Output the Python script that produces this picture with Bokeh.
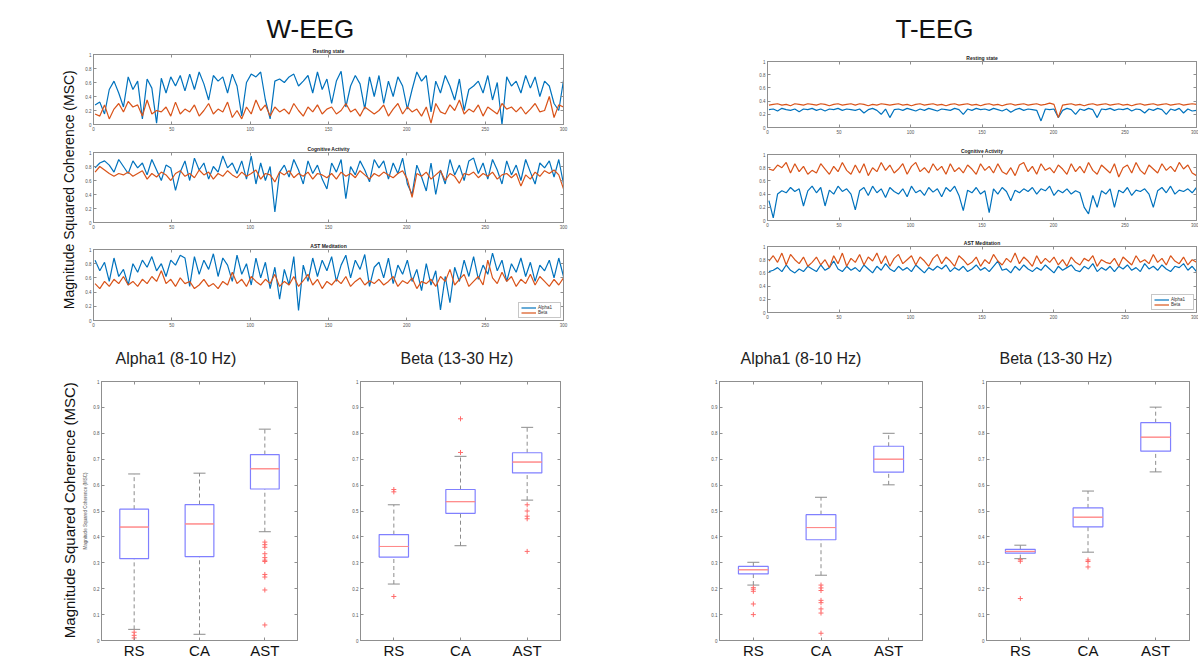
import numpy as np
from math import pi
from bokeh.plotting import figure
from bokeh.layouts import row, column, Spacer
from bokeh.models import (Title, Label, LinearAxis, CategoricalAxis, FixedTicker, Range1d,
                          FactorRange, Legend, LegendItem, ColumnDataSource, Whisker, TeeHead,
                          NumeralTickFormatter)
from bokeh.embed import file_html
from bokeh.resources import INLINE

# ---------------- data: time series (MSC per window, 100 samples over 1..300) ----------------
W_REST_ALPHA = [
    0.28, 0.32, 0.15, 0.50, 0.62, 0.45, 0.25, 0.68, 0.50, 0.62,
    0.08, 0.65, 0.52, 0.02, 0.66, 0.45, 0.68, 0.55, 0.70, 0.48,
    0.72, 0.50, 0.75, 0.58, 0.35, 0.70, 0.62, 0.68, 0.45, 0.72,
    0.55, 0.12, 0.60, 0.72, 0.68, 0.75, 0.35, 0.08, 0.62, 0.65,
    0.60, 0.68, 0.72, 0.55, 0.62, 0.70, 0.45, 0.75, 0.50, 0.65,
    0.30, 0.62, 0.76, 0.25, 0.55, 0.70, 0.58, 0.22, 0.68, 0.40,
    0.70, 0.30, 0.62, 0.40, 0.68, 0.55, 0.22, 0.50, 0.75, 0.62,
    0.70, 0.18, 0.62, 0.45, 0.70, 0.55, 0.35, 0.65, 0.20, 0.50,
    0.55, 0.62, 0.45, 0.70, 0.35, 0.60, 0.00, 0.68, 0.55, 0.62,
    0.45, 0.70, 0.52, 0.68, 0.40, 0.62, 0.55, 0.30, 0.20, 0.63]
W_REST_BETA = [
    0.15, 0.12, 0.28, 0.08, 0.22, 0.30, 0.18, 0.33, 0.25, 0.28,
    0.12, 0.35, 0.15, 0.20, 0.18, 0.25, 0.12, 0.32, 0.15, 0.22,
    0.18, 0.28, 0.12, 0.20, 0.30, 0.15, 0.22, 0.18, 0.32, 0.10,
    0.20, 0.08, 0.25, 0.15, 0.35, 0.20, 0.28, 0.12, 0.25, 0.18,
    0.22, 0.15, 0.30, 0.20, 0.12, 0.25, 0.18, 0.28, 0.15, 0.22,
    0.25, 0.15, 0.20, 0.30, 0.18, 0.22, 0.12, 0.25, 0.20, 0.15,
    0.20, 0.28, 0.12, 0.22, 0.30, 0.15, 0.25, 0.18, 0.22, 0.12,
    0.25, 0.02, 0.30, 0.18, 0.15, 0.28, 0.20, 0.35, 0.15, 0.22,
    0.18, 0.28, 0.12, 0.25, 0.20, 0.15, 0.30, 0.22, 0.25, 0.18,
    0.25, 0.15, 0.22, 0.30, 0.18, 0.20, 0.40, 0.10, 0.28, 0.25]
W_COG_ALPHA = [
    0.78, 0.85, 0.88, 0.82, 0.72, 0.90, 0.80, 0.70, 0.88, 0.78,
    0.85, 0.68, 0.90, 0.75, 0.60, 0.82, 0.78, 0.46, 0.72, 0.88,
    0.60, 0.92, 0.75, 0.85, 0.62, 0.80, 0.72, 0.95, 0.78, 0.85,
    0.70, 0.88, 0.62, 0.95, 0.55, 0.85, 0.60, 0.80, 0.15, 0.72,
    0.82, 0.65, 0.90, 0.75, 0.55, 0.88, 0.70, 0.82, 0.62, 0.48,
    0.85, 0.72, 0.90, 0.34, 0.80, 0.68, 0.88, 0.75, 0.58, 0.90,
    0.78, 0.88, 0.62, 0.85, 0.70, 0.92, 0.55, 0.40, 0.82, 0.65,
    0.45, 0.85, 0.40, 0.75, 0.55, 0.90, 0.68, 0.82, 0.60, 0.88,
    0.92, 0.70, 0.85, 0.62, 0.90, 0.75, 0.55, 0.88, 0.68, 0.82,
    0.60, 0.90, 0.72, 0.55, 0.85, 0.78, 0.88, 0.65, 0.90, 0.55]
W_COG_BETA = [
    0.72, 0.80, 0.75, 0.70, 0.66, 0.70, 0.68, 0.72, 0.66, 0.70,
    0.74, 0.62, 0.70, 0.65, 0.72, 0.68, 0.60, 0.70, 0.74, 0.66,
    0.70, 0.64, 0.75, 0.68, 0.72, 0.62, 0.70, 0.66, 0.74, 0.68,
    0.64, 0.72, 0.66, 0.70, 0.75, 0.62, 0.70, 0.68, 0.58, 0.72,
    0.68, 0.74, 0.64, 0.70, 0.66, 0.72, 0.62, 0.70, 0.68, 0.64,
    0.70, 0.62, 0.72, 0.66, 0.70, 0.64, 0.74, 0.68, 0.62, 0.70,
    0.66, 0.72, 0.68, 0.64, 0.70, 0.74, 0.62, 0.36, 0.70, 0.66,
    0.72, 0.62, 0.68, 0.74, 0.60, 0.70, 0.66, 0.56, 0.70, 0.68,
    0.72, 0.64, 0.70, 0.66, 0.72, 0.62, 0.68, 0.70, 0.64, 0.70,
    0.52, 0.68, 0.62, 0.72, 0.66, 0.74, 0.70, 0.75, 0.68, 0.48]
W_AST_ALPHA = [
    0.85, 0.70, 0.82, 0.55, 0.88, 0.62, 0.72, 0.50, 0.80, 0.68,
    0.85, 0.75, 0.90, 0.70, 0.80, 0.62, 0.85, 0.78, 0.92, 0.88,
    0.48, 0.90, 0.65, 0.85, 0.72, 0.94, 0.62, 0.88, 0.78, 0.55,
    0.92, 0.65, 0.80, 0.50, 0.88, 0.60, 0.82, 0.45, 0.75, 0.30,
    0.72, 0.50, 0.90, 0.14, 0.78, 0.55, 0.88, 0.62, 0.85, 0.70,
    0.90, 0.55, 0.78, 0.92, 0.60, 0.85, 0.72, 0.93, 0.48, 0.75,
    0.82, 0.60, 0.88, 0.52, 0.78, 0.65, 0.85, 0.55, 0.72, 0.42,
    0.80, 0.50, 0.70, 0.15, 0.62, 0.25, 0.75, 0.55, 0.85, 0.62,
    0.90, 0.58, 0.78, 0.65, 0.95, 0.70, 0.85, 0.55, 0.80, 0.68,
    0.88, 0.62, 0.82, 0.55, 0.78, 0.70, 0.85, 0.60, 0.88, 0.62]
W_AST_BETA = [
    0.52, 0.45, 0.55, 0.48, 0.58, 0.52, 0.62, 0.50, 0.55, 0.48,
    0.58, 0.52, 0.62, 0.55, 0.70, 0.52, 0.58, 0.48, 0.60, 0.52,
    0.55, 0.45, 0.50, 0.58, 0.48, 0.52, 0.45, 0.55, 0.50, 0.68,
    0.52, 0.58, 0.48, 0.62, 0.55, 0.50, 0.58, 0.52, 0.65, 0.48,
    0.55, 0.50, 0.62, 0.48, 0.56, 0.65, 0.50, 0.58, 0.45, 0.55,
    0.50, 0.58, 0.52, 0.62, 0.48, 0.55, 0.60, 0.50, 0.56, 0.52,
    0.58, 0.50, 0.55, 0.62, 0.48, 0.56, 0.52, 0.60, 0.45, 0.55,
    0.52, 0.58, 0.48, 0.62, 0.55, 0.72, 0.50, 0.58, 0.65, 0.48,
    0.55, 0.62, 0.50, 0.85, 0.60, 0.52, 0.68, 0.55, 0.62, 0.48,
    0.58, 0.52, 0.65, 0.50, 0.62, 0.55, 0.48, 0.58, 0.50, 0.60]

T_REST_ALPHA = [
    0.27, 0.28, 0.25, 0.29, 0.27, 0.26, 0.28, 0.24, 0.28, 0.27,
    0.29, 0.26, 0.28, 0.25, 0.28, 0.27, 0.29, 0.26, 0.28, 0.27,
    0.26, 0.28, 0.22, 0.27, 0.29, 0.26, 0.20, 0.28, 0.15, 0.27,
    0.28, 0.26, 0.29, 0.27, 0.25, 0.28, 0.26, 0.29, 0.27, 0.25,
    0.28, 0.27, 0.26, 0.29, 0.27, 0.20, 0.28, 0.26, 0.29, 0.27,
    0.28, 0.26, 0.29, 0.27, 0.25, 0.28, 0.23, 0.27, 0.29, 0.26,
    0.28, 0.27, 0.26, 0.10, 0.28, 0.27, 0.28, 0.15, 0.26, 0.29,
    0.27, 0.20, 0.28, 0.26, 0.29, 0.27, 0.15, 0.28, 0.27, 0.29,
    0.26, 0.28, 0.27, 0.29, 0.25, 0.28, 0.27, 0.22, 0.28, 0.26,
    0.29, 0.27, 0.20, 0.28, 0.26, 0.29, 0.22, 0.28, 0.25, 0.26]
T_REST_BETA = [
    0.34, 0.35, 0.36, 0.34, 0.35, 0.33, 0.36, 0.35, 0.34, 0.36,
    0.35, 0.34, 0.36, 0.35, 0.33, 0.35, 0.36, 0.34, 0.35, 0.36,
    0.34, 0.36, 0.35, 0.33, 0.35, 0.34, 0.36, 0.35, 0.34, 0.35,
    0.36, 0.34, 0.35, 0.33, 0.35, 0.36, 0.34, 0.35, 0.36, 0.34,
    0.35, 0.33, 0.35, 0.36, 0.34, 0.35, 0.36, 0.34, 0.35, 0.33,
    0.35, 0.36, 0.34, 0.35, 0.33, 0.35, 0.36, 0.34, 0.35, 0.36,
    0.34, 0.35, 0.36, 0.34, 0.35, 0.37, 0.35, 0.15, 0.34, 0.35,
    0.36, 0.34, 0.35, 0.33, 0.35, 0.36, 0.34, 0.35, 0.36, 0.34,
    0.35, 0.36, 0.34, 0.35, 0.33, 0.35, 0.36, 0.34, 0.35, 0.36,
    0.34, 0.35, 0.36, 0.34, 0.35, 0.36, 0.34, 0.35, 0.36, 0.35]
T_COG_ALPHA = [
    0.30, 0.04, 0.40, 0.45, 0.42, 0.50, 0.44, 0.48, 0.22, 0.45,
    0.52, 0.42, 0.50, 0.22, 0.46, 0.40, 0.52, 0.44, 0.48, 0.40,
    0.16, 0.45, 0.50, 0.38, 0.52, 0.42, 0.48, 0.35, 0.50, 0.44,
    0.40, 0.48, 0.36, 0.52, 0.42, 0.46, 0.38, 0.50, 0.43, 0.48,
    0.36, 0.50, 0.44, 0.52, 0.38, 0.15, 0.46, 0.42, 0.50, 0.40,
    0.45, 0.12, 0.48, 0.40, 0.50, 0.44, 0.30, 0.46, 0.42, 0.48,
    0.44, 0.50, 0.40, 0.48, 0.45, 0.52, 0.38, 0.46, 0.42, 0.48,
    0.40, 0.45, 0.42, 0.20, 0.10, 0.38, 0.20, 0.45, 0.40, 0.48,
    0.20, 0.46, 0.42, 0.50, 0.38, 0.46, 0.44, 0.48, 0.40, 0.20,
    0.45, 0.50, 0.42, 0.52, 0.40, 0.46, 0.44, 0.48, 0.42, 0.50]
T_COG_BETA = [
    0.78, 0.76, 0.84, 0.80, 0.88, 0.72, 0.86, 0.74, 0.82, 0.70,
    0.76, 0.72, 0.86, 0.78, 0.70, 0.82, 0.74, 0.88, 0.76, 0.70,
    0.84, 0.72, 0.86, 0.68, 0.80, 0.74, 0.88, 0.76, 0.84, 0.72,
    0.78, 0.86, 0.70, 0.82, 0.88, 0.74, 0.80, 0.72, 0.86, 0.76,
    0.82, 0.70, 0.86, 0.74, 0.80, 0.72, 0.84, 0.78, 0.70, 0.86,
    0.76, 0.82, 0.72, 0.86, 0.74, 0.70, 0.80, 0.68, 0.84, 0.88,
    0.74, 0.82, 0.70, 0.86, 0.76, 0.80, 0.72, 0.84, 0.78, 0.70,
    0.86, 0.74, 0.82, 0.72, 0.88, 0.76, 0.70, 0.84, 0.78, 0.72,
    0.86, 0.66, 0.80, 0.84, 0.72, 0.88, 0.76, 0.70, 0.84, 0.78,
    0.72, 0.86, 0.76, 0.82, 0.74, 0.88, 0.78, 0.84, 0.72, 0.68]
T_AST_ALPHA = [
    0.62, 0.64, 0.68, 0.62, 0.72, 0.64, 0.60, 0.66, 0.62, 0.70,
    0.66, 0.62, 0.72, 0.64, 0.68, 0.78, 0.66, 0.62, 0.70, 0.64,
    0.68, 0.62, 0.72, 0.66, 0.60, 0.70, 0.64, 0.74, 0.66, 0.62,
    0.70, 0.64, 0.68, 0.62, 0.72, 0.66, 0.60, 0.68, 0.64, 0.70,
    0.66, 0.72, 0.62, 0.68, 0.64, 0.70, 0.62, 0.66, 0.72, 0.64,
    0.68, 0.62, 0.70, 0.78, 0.64, 0.66, 0.60, 0.70, 0.64, 0.72,
    0.66, 0.62, 0.68, 0.64, 0.72, 0.66, 0.60, 0.70, 0.64, 0.68,
    0.72, 0.64, 0.62, 0.70, 0.66, 0.74, 0.62, 0.68, 0.64, 0.70,
    0.62, 0.70, 0.66, 0.72, 0.64, 0.68, 0.62, 0.74, 0.66, 0.70,
    0.64, 0.72, 0.66, 0.62, 0.70, 0.68, 0.74, 0.64, 0.70, 0.62]
T_AST_BETA = [
    0.78, 0.86, 0.76, 0.90, 0.72, 0.88, 0.80, 0.74, 0.84, 0.70,
    0.76, 0.84, 0.72, 0.80, 0.68, 0.86, 0.74, 0.90, 0.70, 0.82,
    0.76, 0.88, 0.72, 0.84, 0.78, 0.90, 0.74, 0.86, 0.70, 0.82,
    0.88, 0.74, 0.80, 0.86, 0.72, 0.84, 0.78, 0.70, 0.82, 0.88,
    0.74, 0.84, 0.78, 0.70, 0.86, 0.80, 0.72, 0.76, 0.84, 0.70,
    0.80, 0.74, 0.88, 0.78, 0.72, 0.82, 0.76, 0.90, 0.74, 0.84,
    0.78, 0.70, 0.86, 0.74, 0.82, 0.76, 0.84, 0.72, 0.80, 0.70,
    0.84, 0.76, 0.72, 0.82, 0.78, 0.86, 0.70, 0.80, 0.76, 0.74,
    0.82, 0.70, 0.84, 0.78, 0.72, 0.86, 0.76, 0.80, 0.74, 0.88,
    0.76, 0.82, 0.72, 0.86, 0.78, 0.74, 0.84, 0.72, 0.80, 0.76]

# ---------------- data: box plot statistics ----------------
CATS = ["RS", "CA", "AST"]

W_ALPHA_HI = [0.643, 0.646, 0.816]
W_ALPHA_Q3 = [0.507, 0.525, 0.718]
W_ALPHA_MED = [0.438, 0.450, 0.663]
W_ALPHA_Q1 = [0.316, 0.324, 0.585]
W_ALPHA_LO = [0.043, 0.024, 0.420]
W_ALPHA_OUT_RS = [0.032, 0.020, 0.010, 0.0]
W_ALPHA_OUT_CA = []
W_ALPHA_OUT_AST = [0.38, 0.37, 0.36, 0.335, 0.32, 0.31, 0.305, 0.255, 0.245, 0.195, 0.06]

W_BETA_HI = [0.524, 0.711, 0.823]
W_BETA_Q3 = [0.409, 0.583, 0.725]
W_BETA_MED = [0.363, 0.536, 0.689]
W_BETA_Q1 = [0.322, 0.491, 0.647]
W_BETA_LO = [0.218, 0.366, 0.542]
W_BETA_OUT_RS = [0.583, 0.574, 0.170]
W_BETA_OUT_CA = [0.856, 0.726]
W_BETA_OUT_AST = [0.524, 0.500, 0.480, 0.470, 0.344]

T_ALPHA_HI = [0.302, 0.553, 0.800]
T_ALPHA_Q3 = [0.286, 0.486, 0.750]
T_ALPHA_MED = [0.273, 0.436, 0.700]
T_ALPHA_Q1 = [0.257, 0.389, 0.650]
T_ALPHA_LO = [0.214, 0.252, 0.601]
T_ALPHA_OUT_RS = [0.204, 0.198, 0.190, 0.141, 0.100]
T_ALPHA_OUT_CA = [0.214, 0.203, 0.193, 0.155, 0.146, 0.122, 0.106, 0.028]
T_ALPHA_OUT_AST = []

T_BETA_HI = [0.368, 0.577, 0.901]
T_BETA_Q3 = [0.352, 0.512, 0.841]
T_BETA_MED = [0.344, 0.476, 0.785]
T_BETA_Q1 = [0.337, 0.439, 0.731]
T_BETA_LO = [0.316, 0.341, 0.651]
T_BETA_OUT_RS = [0.312, 0.306, 0.162]
T_BETA_OUT_CA = [0.311, 0.305, 0.284]
T_BETA_OUT_AST = []

TS_X_TICKS = [0, 50, 100, 150, 200, 250, 300]
TS_Y_TICKS = [0, 0.2, 0.4, 0.6, 0.8, 1]
BOX_Y_TICKS = [0, 0.1, 0.2, 0.3, 0.4, 0.5, 0.6, 0.7, 0.8, 0.9, 1]
YLABEL = "Magnitude Squared Coherence (MSC)"

# ---------------- styling ----------------
FONT = "Liberation Sans"
BLUE = "#0072BD"
ORANGE = "#D95319"
AXC = "#8f8f8f"
TXT = "#555555"
BOXC = "#8080ff"
MEDC = "#ff8a8a"
WHC = "#8c8c8c"
OUTC = "#ff6b6b"


def style_axis(ax, fs="4.5px"):
    ax.axis_line_color = AXC
    ax.major_tick_line_color = AXC
    ax.minor_tick_line_color = None
    ax.major_tick_in = 3
    ax.major_tick_out = 0
    ax.major_label_text_font = FONT
    ax.major_label_text_font_size = fs
    ax.major_label_text_color = TXT
    ax.major_label_standoff = 2


def mute_labels(ax):
    # mirrored (MATLAB box) axis: ticks only, labels not painted
    ax.major_label_text_font_size = "1px"
    ax.major_label_text_color = None
    ax.major_label_standoff = 0


def mirror_axes(p, top_axis, yticks):
    style_axis(top_axis)
    mute_labels(top_axis)
    p.add_layout(top_axis, "above")
    r = LinearAxis(ticker=FixedTicker(ticks=yticks))
    style_axis(r)
    mute_labels(r)
    p.add_layout(r, "right")


def base_fig(w, h, bl, br, bt, bb, x_range):
    p = figure(width=w, height=h, x_range=x_range, y_range=Range1d(0, 1),
               output_backend="svg", toolbar_location=None, title_location=None,
               min_border_left=bl, min_border_right=br, min_border_top=bt, min_border_bottom=bb)
    p.xgrid.visible = False
    p.ygrid.visible = False
    p.outline_line_color = AXC
    p.border_fill_color = "white"
    return p


def ts_panel(a, b, title, w, h, bl, br, bt, bb, headline=None, head_offset=0,
             head_standoff=4, legend=False):
    p = base_fig(w, h, bl, br, bt, bb, Range1d(0, 300))
    xa = np.linspace(1, 300, len(a))
    xb = np.linspace(1, 300, len(b))
    la = p.line(xa, a, line_color=BLUE, line_width=1.2)
    lb = p.line(xb, b, line_color=ORANGE, line_width=1.2)
    p.xaxis.ticker = FixedTicker(ticks=TS_X_TICKS)
    p.yaxis.ticker = FixedTicker(ticks=TS_Y_TICKS)
    p.yaxis.formatter = NumeralTickFormatter(format="0.[0]")
    style_axis(p.xaxis[0])
    style_axis(p.yaxis[0])
    mirror_axes(p, LinearAxis(ticker=FixedTicker(ticks=TS_X_TICKS)), TS_Y_TICKS)
    p.add_layout(Title(text=title, text_font=FONT, text_font_size="5px",
                       text_font_style="bold", text_color="#222222",
                       align="center", standoff=1), "above")
    if headline:
        p.add_layout(Title(text=headline, text_font=FONT, text_font_size="26px",
                           text_font_style="normal", text_color="#111111",
                           align="left", offset=head_offset, standoff=head_standoff), "above")
    if legend:
        lg = Legend(items=[LegendItem(label="Alpha1", renderers=[la]),
                           LegendItem(label="Beta", renderers=[lb])],
                    location="bottom_right", label_text_font=FONT,
                    label_text_font_size="4.5px", label_text_color="#333333",
                    glyph_width=15, glyph_height=5, label_height=5, label_standoff=2,
                    spacing=0, padding=2, margin=2, border_line_color=AXC,
                    background_fill_alpha=1.0)
        p.add_layout(lg)
    return p


def box_panel(hi, q3, med, q1, lo, out_rs, out_ca, out_ast, title, w, h, bl, br, bt, bb,
              title_offset, ylabel=None):
    p = base_fig(w, h, bl, br, bt, bb, FactorRange(*CATS))
    src = ColumnDataSource(dict(cat=CATS, hi=hi, q3=q3, med=med, q1=q1, lo=lo))
    p.add_layout(Whisker(source=src, base="cat", lower="q3", upper="hi", dimension="height",
                         line_color=WHC, line_dash="4 3", line_width=1,
                         upper_head=TeeHead(size=12, line_color=WHC, line_width=1),
                         lower_head=None))
    p.add_layout(Whisker(source=src, base="cat", lower="lo", upper="q1", dimension="height",
                         line_color=WHC, line_dash="4 3", line_width=1,
                         lower_head=TeeHead(size=12, line_color=WHC, line_width=1),
                         upper_head=None))
    p.vbar(x="cat", top="q3", bottom="q1", width=0.44, source=src,
           fill_color=None, line_color=BOXC, line_width=1.2)
    p.vbar(x="cat", top="med", bottom="med", width=0.44, source=src,
           fill_color=None, line_color=MEDC, line_width=1.0)
    ox = ["RS"] * len(out_rs) + ["CA"] * len(out_ca) + ["AST"] * len(out_ast)
    oy = list(out_rs) + list(out_ca) + list(out_ast)
    if oy:
        p.scatter(x=ox, y=oy, marker="cross", size=5, line_color=OUTC, line_width=1)
    p.yaxis.ticker = FixedTicker(ticks=BOX_Y_TICKS)
    p.yaxis.formatter = NumeralTickFormatter(format="0.[0]")
    style_axis(p.yaxis[0])
    style_axis(p.xaxis[0], fs="15px")
    p.xaxis.major_label_text_color = "#111111"
    p.xaxis.major_label_standoff = 1
    if ylabel:
        p.yaxis.axis_label = ylabel
        p.yaxis.axis_label_text_font = FONT
        p.yaxis.axis_label_text_font_size = "4.5px"
        p.yaxis.axis_label_text_font_style = "normal"
        p.yaxis.axis_label_text_color = "#555555"
        p.yaxis.axis_label_standoff = 2
    mirror_axes(p, CategoricalAxis(), BOX_Y_TICKS)
    p.add_layout(Title(text=title, text_font=FONT, text_font_size="16px",
                       text_font_style="normal", text_color="#222222",
                       align="left", offset=title_offset, standoff=30), "above")
    return p


def label_fig(w, h, lx, ly, size):
    p = figure(width=w, height=h, x_range=Range1d(0, 1), y_range=Range1d(0, 1),
               output_backend="svg", toolbar_location=None, title_location=None,
               x_axis_type=None, y_axis_type=None, min_border=0)
    p.xgrid.visible = False
    p.ygrid.visible = False
    p.outline_line_color = None
    p.add_layout(Label(x=lx, y=ly, text=YLABEL, angle=pi / 2, text_align="center",
                       text_baseline="middle", text_font=FONT, text_font_size=size,
                       text_color="#111111"))
    return p


# ---------------- top section (page y 0..329) ----------------
TW = 495
pW1 = ts_panel(W_REST_ALPHA, W_REST_BETA, "Resting state", TW, 140, 13, 12, 54, 16,
               headline="W-EEG", head_offset=173, head_standoff=4)
pW2 = ts_panel(W_COG_ALPHA, W_COG_BETA, "Cognitive Activity", TW, 97, 13, 12, 12, 15)
pW3 = ts_panel(W_AST_ALPHA, W_AST_BETA, "AST Meditation", TW, 92, 13, 12, 12, 9, legend=True)

RW = 444
pT1 = ts_panel(T_REST_ALPHA, T_REST_BETA, "Resting state", RW, 140, 13, 2, 61, 13,
               headline="T-EEG", head_offset=128, head_standoff=18)
pT2 = ts_panel(T_COG_ALPHA, T_COG_BETA, "Cognitive Activity", RW, 95, 13, 2, 14, 15)
pT3 = ts_panel(T_AST_ALPHA, T_AST_BETA, "AST Meditation", RW, 94, 13, 2, 11, 17, legend=True)

TOP_H = 329
top = row(label_fig(80, TOP_H, 0.85, 0.425, "14px"), column(pW1, pW2, pW3),
          Spacer(width=179, height=TOP_H), column(pT1, pT2, pT3))

# ---------------- bottom section (page y 329..661) ----------------
BH = 332
bWA = box_panel(W_ALPHA_HI, W_ALPHA_Q3, W_ALPHA_MED, W_ALPHA_Q1, W_ALPHA_LO,
                W_ALPHA_OUT_RS, W_ALPHA_OUT_CA, W_ALPHA_OUT_AST,
                "Alpha1 (8-10 Hz)", 240, BH, 14, 23, 52, 21, 14, ylabel=YLABEL)
bWB = box_panel(W_BETA_HI, W_BETA_Q3, W_BETA_MED, W_BETA_Q1, W_BETA_LO,
                W_BETA_OUT_RS, W_BETA_OUT_CA, W_BETA_OUT_AST,
                "Beta (13-30 Hz)", 255, BH, 40, 15, 52, 21, 40)
bTA = box_panel(T_ALPHA_HI, T_ALPHA_Q3, T_ALPHA_MED, T_ALPHA_Q1, T_ALPHA_LO,
                T_ALPHA_OUT_RS, T_ALPHA_OUT_CA, T_ALPHA_OUT_AST,
                "Alpha1 (8-10 Hz)", 267, BH, 40, 24, 52, 21, 21)
bTB = box_panel(T_BETA_HI, T_BETA_Q3, T_BETA_MED, T_BETA_Q1, T_BETA_LO,
                T_BETA_OUT_RS, T_BETA_OUT_CA, T_BETA_OUT_AST,
                "Beta (13-30 Hz)", 252, BH, 40, 9, 52, 21, 13)

bottom = row(label_fig(80, BH, 0.86, 0.503, "15px"), bWA, bWB,
             Spacer(width=104, height=BH), bTA, bTB)

layout = column(top, bottom)

with open("out.html", "w") as f:
    f.write(file_html(layout, INLINE))
